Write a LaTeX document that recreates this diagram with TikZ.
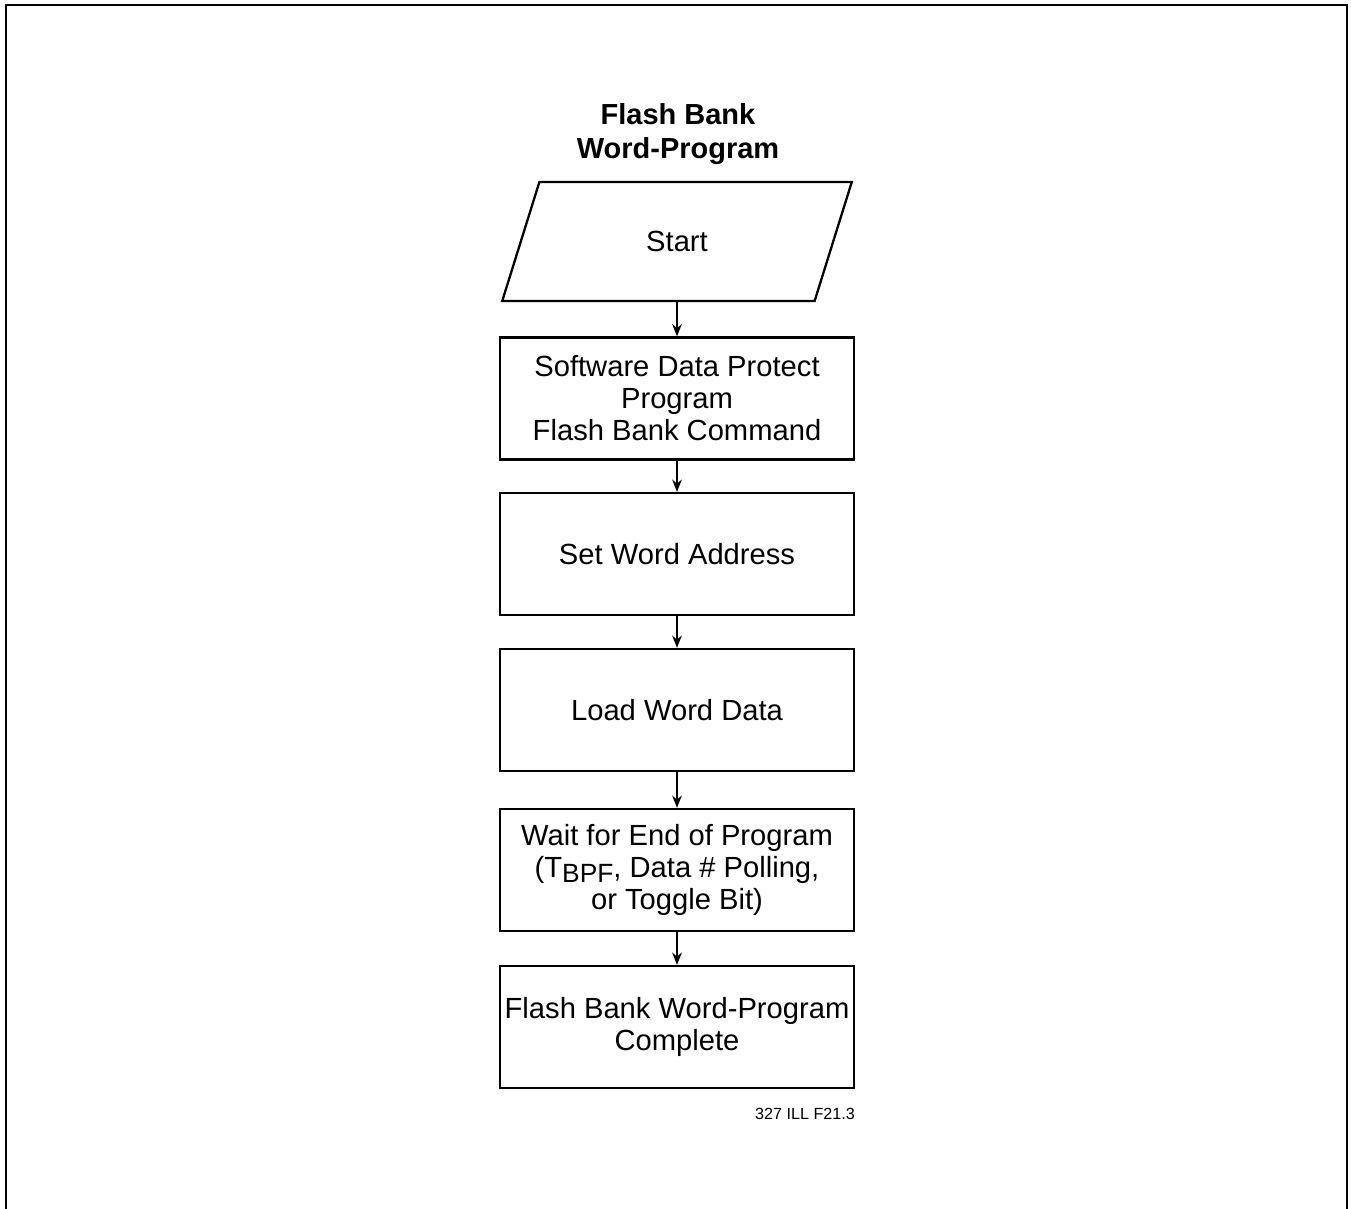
\documentclass[tikz,border=0pt]{standalone}
\usepackage{fontspec}
\setmainfont{Liberation Sans}
\usetikzlibrary{shapes.geometric,positioning,arrows.meta}

\begin{document}
\begin{tikzpicture}[x=0.02cm,y=-0.02cm,
  stepbox/.style={draw,line width=1.3pt,minimum width=7.08cm,minimum height=2.44cm,
                  align=center,inner sep=0pt,font=\fontsize{16.6}{18.2}\selectfont},
  inbox/.style={draw,line width=1.3pt,trapezium,trapezium left angle=73,
                trapezium right angle=107,trapezium stretches=true,
                minimum width=7.02cm,minimum height=2.38cm,
                font=\fontsize{16.6}{18.2}\selectfont},
  header/.style={font=\fontsize{16.5}{19.3}\selectfont\bfseries,align=center},
  flow/.style={line width=1pt,-{Stealth[length=7pt,width=5.5pt]}},
]
\useasboundingbox (0,0) rectangle (1351,1209);

% Frame (open at the bottom)
\draw[line width=1.5pt] (6,1209) -- (6,5) -- (1347,5) -- (1347,1209);

% Title
\node[header] (title) at (678,134) {Flash Bank\\Word-Program};

% Steps
\node[inbox] (start) at (677,241.5) {Start};
\node[stepbox] (sdp) at (677,398.5)
  {Software Data Protect\\Program\\ Flash Bank Command};
\node[stepbox] (addr) at (677,554) {Set Word Address};
\node[stepbox] (load) at (677,710) {Load Word Data};
\node[stepbox] (wait) at (677,870)
  {Wait for End of Program\\
   (T\raisebox{-0.35ex}{\fontsize{15}{15}\selectfont BPF}, Data \# Polling,\\
   or Toggle Bit)};
\node[stepbox] (done) at (677,1027) {Flash Bank Word-Program\\Complete};

% Connectors
\draw[flow] (start) -- (sdp);
\draw[flow] (sdp) -- (addr);
\draw[flow] (addr) -- (load);
\draw[flow] (load) -- (wait);
\draw[flow] (wait) -- (done);

% Figure tag
\node[font=\fontsize{9.2}{10}\selectfont] (tag) at (805,1114) {327 ILL F21.3};

\end{tikzpicture}
\end{document}
